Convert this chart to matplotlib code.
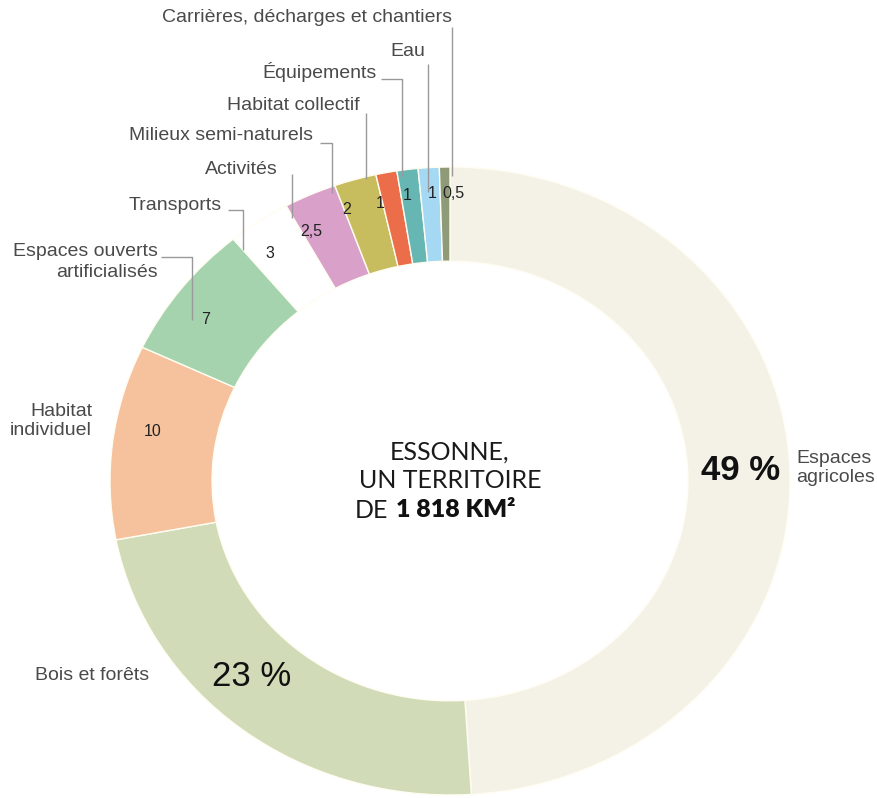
import matplotlib
matplotlib.use("Agg")
import matplotlib.pyplot as plt

# land use shares in Essonne, clockwise from 12 o'clock
categories = [
    "Espaces agricoles", "Bois et forêts", "Habitat individuel",
    "Espaces ouverts artificialisés", "Transports", "Activités",
    "Milieux semi-naturels", "Habitat collectif", "Équipements", "Eau",
    "Carrières, décharges et chantiers",
]
shares = [49, 23, 10, 7, 3, 2.5, 2, 1, 1, 1, 0.5]
value_labels = ["49 %", "23 %", "10", "7", "3", "2,5", "2", "1", "1", "1", "0,5"]
colors = ["#F4F1E7", "#D2DBB8", "#F6C29D", "#A5D3AE", "#FFFFFF", "#D9A1C9",
          "#C8BD5E", "#EC6D4A", "#66B7B4", "#A5D9F3", "#8E9A78"]

SANS = ["Liberation Sans", "DejaVu Sans"]
LABEL_C = "#4A4A4A"
LINE_C = "#999999"

# ring geometry in pixels (picture is slightly stretched horizontally)
CX, CY, RX, RY = 450, 481, 340, 314
W, H = 877, 798


def px(x, y):
    return (x - CX) / RX, (CY - y) / RY


fig = plt.figure(figsize=(W / 100, H / 100), dpi=100)
ax = fig.add_axes([0, 0, 1, 1])
ax.pie(shares, colors=colors, startangle=90, counterclock=False, radius=1,
       wedgeprops=dict(width=0.30, edgecolor="#FFFDF2", linewidth=1.0))
ax.set_aspect("auto")
ax.set_xlim(px(0, 0)[0], px(W, 0)[0])
ax.set_ylim(px(0, H)[1], px(0, 0)[1])
ax.axis("off")


def label(x, y, s, ha="right", size=14, color=LABEL_C, **kw):
    ax.text(*px(x, y), s, ha=ha, va="center", fontsize=size, color=color,
            family=SANS, **kw)


def leader(points):
    xs, ys = zip(*[px(x, y) for x, y in points])
    ax.plot(xs, ys, color=LINE_C, lw=1.0, solid_capstyle="butt")


# category names and leader lines
label(452, 18, categories[10])
leader([(452, 27), (452, 176)])
label(425, 52, categories[9])
leader([(428, 64), (428, 192)])
label(377, 72, categories[8])
leader([(381, 79), (402, 79), (402, 177)])
label(360, 105, categories[7])
leader([(366, 113), (366, 179)])
label(313, 136, categories[6])
leader([(320, 143), (332, 143), (332, 193)])
label(278, 170, categories[5])
leader([(292, 174), (292, 218)])
label(222, 205, categories[4])
leader([(228, 210), (243, 210), (243, 250)])
label(158, 262, "Espaces ouverts\nartificialisés", linespacing=1.25)
leader([(161, 257), (192, 257), (192, 320)])
label(92, 421, "Habitat\nindividuel", linespacing=1.2)
label(92, 675, categories[1], ha="center")
label(796, 468, "Espaces\nagricoles", ha="left", linespacing=1.15)

# values on the ring
small = dict(ha="center", size=11.5, color="#222222")
label(206, 320, value_labels[3], **small)
label(153, 432, value_labels[2], **small)
label(270, 253, value_labels[4], **small)
label(311, 232, value_labels[5], **small)
label(347, 210, value_labels[6], **small)
label(380, 203, value_labels[7], **small)
label(407, 195, value_labels[8], **small)
label(432, 193, value_labels[9], **small)
label(453, 193, value_labels[10], **small)
label(252, 677, value_labels[1], ha="center", size=25, color="#111111")
label(741, 470, value_labels[0], ha="center", size=25, color="#111111",
      weight="bold")

# centre title
title_kw = dict(va="center", fontsize=18, color="#1A1A1A",
                family=["Lato", "DejaVu Sans"], weight="normal")
ax.text(*px(450, 452), "ESSONNE,", ha="center", **title_kw)
ax.text(*px(450, 481), "UN TERRITOIRE", ha="center", **title_kw)
ax.text(*px(388, 510), "DE", ha="right", **title_kw)
ax.text(*px(396, 510), "1 818 KM²", ha="left", va="center", fontsize=18,
        color="#111111", family=["Lato", "DejaVu Sans"], weight="heavy")

fig.savefig("out.png", dpi=100)
